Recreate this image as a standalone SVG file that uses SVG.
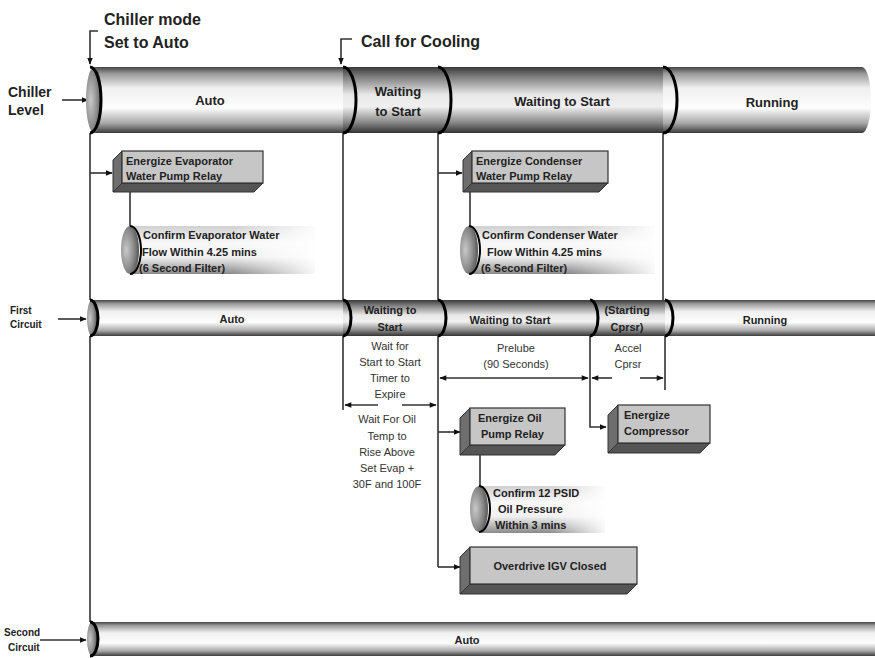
<svg xmlns="http://www.w3.org/2000/svg" width="875" height="658" viewBox="0 0 875 658">
<defs>
<linearGradient id="tube" x1="0" y1="0" x2="0" y2="1">
<stop offset="0" stop-color="#444"/><stop offset="0.1" stop-color="#999"/><stop offset="0.32" stop-color="#f0f0f0"/><stop offset="0.62" stop-color="#fdfdfd"/><stop offset="0.85" stop-color="#a8a8a8"/><stop offset="1" stop-color="#3c3c3c"/>
</linearGradient>
<linearGradient id="tubeD" x1="0" y1="0" x2="0" y2="1">
<stop offset="0" stop-color="#3a3a3a"/><stop offset="0.15" stop-color="#7e7e7e"/><stop offset="0.42" stop-color="#e8e8e8"/><stop offset="0.6" stop-color="#f0f0f0"/><stop offset="0.84" stop-color="#888"/><stop offset="1" stop-color="#333"/>
</linearGradient>
<linearGradient id="cyl" x1="0" y1="0" x2="0" y2="1">
<stop offset="0" stop-color="#d0d0d0"/><stop offset="0.35" stop-color="#f8f8f8"/><stop offset="0.65" stop-color="#f0f0f0"/><stop offset="1" stop-color="#8a8a8a"/>
</linearGradient>
<linearGradient id="fade" x1="0" y1="0" x2="1" y2="0">
<stop offset="0.55" stop-color="#fff" stop-opacity="0"/><stop offset="1" stop-color="#fff" stop-opacity="0.95"/>
</linearGradient>
<radialGradient id="cap" cx="0.3" cy="0.5" r="0.7">
<stop offset="0" stop-color="#c8c8c8"/><stop offset="0.6" stop-color="#8a8a8a"/><stop offset="1" stop-color="#555"/>
</radialGradient>
<marker id="ah" viewBox="0 0 10 10" refX="9" refY="5" markerWidth="7" markerHeight="7" orient="auto" markerUnits="userSpaceOnUse">
<path d="M0,1 L10,5 L0,9 Z" fill="#111"/>
</marker>
<marker id="ahs" viewBox="0 0 10 10" refX="9" refY="5" markerWidth="9" markerHeight="7" orient="auto-start-reverse" markerUnits="userSpaceOnUse">
<path d="M0,1 L10,5 L0,9 Z" fill="#111"/>
</marker>
</defs>
<style>
text{font-family:"Liberation Sans",Arial,sans-serif;fill:#222}
.t16{font-size:16px;font-weight:bold}
.t14{font-size:14px;font-weight:bold}
.t13{font-size:13px;font-weight:bold}
.t11{font-size:11px;font-weight:bold}
.t10{font-size:10px;font-weight:bold}
.n{font-size:11px;fill:#333}
.c{text-anchor:middle}
.ln{stroke:#333;stroke-width:1.6;fill:none}
.arc{stroke:#000;stroke-width:3;fill:none}
.arc2{stroke:#000;stroke-width:2;fill:none}
.front{fill:#c6c6c6;stroke:#333;stroke-width:1.2}
.side{fill:#6e6e6e;stroke:#333;stroke-width:1}
.bot{fill:#555;stroke:#333;stroke-width:1}
</style>

<g id="connectors">
<path class="ln" d="M98,31 H90 V64" marker-end="url(#ah)"/>
<path class="ln" d="M352,39 H341 V64" marker-end="url(#ah)"/>
<path class="ln" d="M62,100 H88" marker-end="url(#ah)"/>
<path class="ln" d="M58,319 H86" marker-end="url(#ah)"/>
<path class="ln" d="M40,640 H86" marker-end="url(#ah)"/>
<path class="ln" d="M90,133 V300 M90,336 V622"/>
<path class="ln" d="M343,133 V300 M343,336 V410"/>
<path class="ln" d="M438,133 V300 M438,336 V567"/>
<path class="ln" d="M663,133 V300 M665,336 V390"/>
<path class="ln" d="M590,336 V427 H606" marker-end="url(#ah)"/>
<path class="ln" d="M90,173 H112" marker-end="url(#ah)"/>
<path class="ln" d="M438,173 H462" marker-end="url(#ah)"/>
<path class="ln" d="M438,432 H460" marker-end="url(#ah)"/>
<path class="ln" d="M438,567 H460" marker-end="url(#ah)"/>
<path class="ln" d="M130,192 V228"/>
<path class="ln" d="M470,192 V228"/>
<path class="ln" d="M480,455 V486"/>
<path class="ln" d="M378,405 H345" marker-end="url(#ahs)"/>
<path class="ln" d="M402,405 H436" marker-end="url(#ahs)"/>
<path class="ln" d="M440,378 H588" marker-start="url(#ahs)" marker-end="url(#ahs)"/>
<path class="ln" d="M612,378 H592" marker-end="url(#ahs)"/>
<path class="ln" d="M640,378 H663" marker-end="url(#ahs)"/>
</g>

<g id="label-chiller-mode">
<text class="t16" x="104" y="25">Chiller mode</text>
<text class="t16" x="104" y="48">Set to Auto</text>
</g>
<g id="label-call-cooling"><text class="t16" x="361" y="47">Call for Cooling</text></g>
<g id="label-chiller-level">
<text class="t14" x="8" y="97">Chiller</text>
<text class="t14" x="8" y="115">Level</text>
</g>

<g id="chiller-tube">
<path d="M92,67 H862 A9,33 0 0 1 862,133 H92 Z" fill="url(#tube)"/>
<rect x="343" y="67" width="320" height="66" fill="url(#tubeD)"/>
<ellipse cx="94" cy="100" rx="8" ry="33" fill="url(#cap)"/>
<path class="arc" d="M90,67 A11,33 0 0 1 90,133"/>
<path class="arc" d="M343,67 A13,33 0 0 1 343,133"/>
<path class="arc" d="M438,67 A13,33 0 0 1 438,133"/>
<path class="arc" d="M663,67 A14,33 0 0 1 663,133"/>
<text class="t13 c" x="210" y="105">Auto</text>
<text class="t13 c" x="398" y="96">Waiting</text>
<text class="t13 c" x="398" y="116">to Start</text>
<text class="t13 c" x="562" y="106">Waiting to Start</text>
<text class="t13 c" x="772" y="107">Running</text>
</g>

<g id="node-evap-relay">
<polygon class="side" points="122,151 113,160 113,192 122,183"/>
<polygon class="bot" points="122,183 113,192 254,192 263,183"/>
<rect class="front" x="122" y="151" width="141" height="32"/>
<text class="t11" x="126" y="165">Energize Evaporator</text>
<text class="t11" x="126" y="180">Water Pump Relay</text>
</g>
<g id="node-evap-flow">
<rect x="130" y="226" width="185" height="48" fill="url(#cyl)"/>
<rect x="130" y="226" width="186" height="48" fill="url(#fade)"/>
<ellipse cx="130" cy="250" rx="9" ry="24" fill="url(#cap)"/>
<path class="arc2" d="M130,226 A11,24 0 0 1 130,274"/>
<text class="t11" x="143" y="239">Confirm Evaporator Water</text>
<text class="t11" x="142" y="256">Flow Within 4.25 mins</text>
<text class="t11" x="139" y="272">(6 Second Filter)</text>
</g>

<g id="node-cond-relay">
<polygon class="side" points="472,151 463,160 463,192 472,183"/>
<polygon class="bot" points="472,183 463,192 599,192 608,183"/>
<rect class="front" x="472" y="151" width="136" height="32"/>
<text class="t11" x="476" y="165">Energize Condenser</text>
<text class="t11" x="476" y="180">Water Pump Relay</text>
</g>
<g id="node-cond-flow">
<rect x="469" y="226" width="186" height="48" fill="url(#cyl)"/>
<rect x="469" y="226" width="187" height="48" fill="url(#fade)"/>
<ellipse cx="469" cy="250" rx="9" ry="24" fill="url(#cap)"/>
<path class="arc2" d="M469,226 A11,24 0 0 1 469,274"/>
<text class="t11" x="482" y="239">Confirm Condenser Water</text>
<text class="t11" x="487" y="256">Flow Within 4.25 mins</text>
<text class="t11" x="481" y="272">(6 Second Filter)</text>
</g>

<g id="label-first-circuit">
<text class="t10" x="10" y="314">First</text>
<text class="t10" x="10" y="328">Circuit</text>
</g>
<g id="first-circuit-tube">
<rect x="92" y="300" width="783" height="36" fill="url(#tube)"/>
<rect x="343" y="300" width="322" height="36" fill="url(#tubeD)"/>
<ellipse cx="92" cy="318" rx="5" ry="18" fill="url(#cap)"/>
<path class="arc" d="M90,300 A8,18 0 0 1 90,336"/>
<path class="arc" d="M343,300 A8,18 0 0 1 343,336"/>
<path class="arc" d="M438,300 A8,18 0 0 1 438,336"/>
<path class="arc" d="M590,300 A8,18 0 0 1 590,336"/>
<path class="arc" d="M665,300 A8,18 0 0 1 665,336"/>
<text class="t11 c" x="232" y="323">Auto</text>
<text class="t11 c" x="390" y="314">Waiting to</text>
<text class="t11 c" x="390" y="331">Start</text>
<text class="t11 c" x="510" y="324">Waiting to Start</text>
<text class="t11 c" x="627" y="314">(Starting</text>
<text class="t11 c" x="627" y="331">Cprsr)</text>
<text class="t11 c" x="765" y="324">Running</text>
</g>

<g id="note-timer">
<text class="n c" x="390" y="350">Wait for</text>
<text class="n c" x="390" y="366">Start to Start</text>
<text class="n c" x="390" y="382">Timer to</text>
<text class="n c" x="390" y="398">Expire</text>
</g>
<g id="note-oil-temp">
<text class="n c" x="387" y="423">Wait For Oil</text>
<text class="n c" x="387" y="440">Temp  to</text>
<text class="n c" x="387" y="456">Rise Above</text>
<text class="n c" x="387" y="472">Set Evap +</text>
<text class="n c" x="387" y="488">30F and 100F</text>
</g>
<g id="note-prelube">
<text class="n c" x="516" y="352">Prelube</text>
<text class="n c" x="516" y="368">(90 Seconds)</text>
</g>
<g id="note-accel">
<text class="n c" x="628" y="352">Accel</text>
<text class="n c" x="628" y="368">Cprsr</text>
</g>

<g id="node-oil-relay">
<polygon class="side" points="470,408 460,418 460,455 470,445"/>
<polygon class="bot" points="470,445 460,455 555,455 565,445"/>
<rect class="front" x="470" y="408" width="95" height="37"/>
<text class="t11" x="478" y="422">Energize Oil</text>
<text class="t11" x="481" y="438">Pump Relay</text>
</g>
<g id="node-oil-pressure">
<rect x="479" y="486" width="126" height="47" fill="url(#cyl)"/>
<rect x="479" y="486" width="127" height="47" fill="url(#fade)"/>
<ellipse cx="479" cy="509" rx="9" ry="23" fill="url(#cap)"/>
<path class="arc2" d="M479,486 A11,23 0 0 1 479,532"/>
<text class="t11" x="493" y="497">Confirm 12 PSID</text>
<text class="t11" x="498" y="513">Oil Pressure</text>
<text class="t11" x="495" y="529">Within 3 mins</text>
</g>

<g id="node-compressor">
<polygon class="side" points="618,405 608,415 608,453 618,443"/>
<polygon class="bot" points="618,443 608,453 700,453 710,443"/>
<rect class="front" x="618" y="405" width="92" height="38"/>
<text class="t11" x="624" y="419">Energize</text>
<text class="t11" x="624" y="435">Compressor</text>
</g>

<g id="node-overdrive">
<polygon class="side" points="470,547 460,557 460,594 470,584"/>
<polygon class="bot" points="470,584 460,594 627,594 637,584"/>
<rect class="front" x="470" y="547" width="167" height="37"/>
<text class="t11 c" x="550" y="570">Overdrive IGV Closed</text>
</g>

<g id="label-second-circuit">
<text class="t10" x="4" y="636">Second</text>
<text class="t10" x="8" y="651">Circuit</text>
</g>
<g id="second-circuit-tube">
<rect x="92" y="622" width="783" height="34" fill="url(#tube)"/>
<ellipse cx="92" cy="639" rx="5" ry="17" fill="url(#cap)"/>
<path class="arc" d="M90,622 A8,17 0 0 1 90,656"/>
<text class="t11 c" x="467" y="644">Auto</text>
</g>
</svg>
